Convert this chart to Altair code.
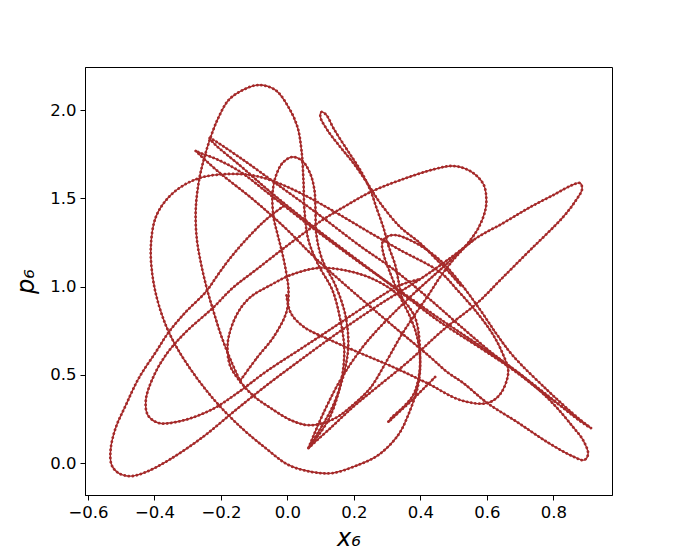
import altair as alt
import pandas as pd

# Trajectory, split into strokes (x6, p6)
outer = [(-0.012, 1.456), (-0.066, 1.377), (-0.126, 1.263), (-0.177, 1.150), (-0.210, 1.065),
         (-0.246, 0.969), (-0.306, 0.856), (-0.357, 0.742), (-0.396, 0.629), (-0.447, 0.482),
         (-0.486, 0.329), (-0.517, 0.198), (-0.532, 0.074), (-0.529, -0.011), (-0.508, -0.057),
         (-0.471, -0.074), (-0.426, -0.051), (-0.357, 0.017), (-0.255, 0.147), (-0.156, 0.300),
         (-0.066, 0.436), (0.039, 0.584), (0.159, 0.748), (0.279, 0.901), (0.399, 1.042),
         (0.489, 1.161), (0.559, 1.263)]

top_right = [(0.063, 0.085), (0.129, 0.198), (0.204, 0.329), (0.270, 0.431), (0.369, 0.584),
             (0.468, 0.754), (0.571, 0.907), (0.640, 1.037), (0.730, 1.207), (0.829, 1.394),
             (0.868, 1.490), (0.886, 1.552), (0.880, 1.586), (0.856, 1.575), (0.805, 1.524),
             (0.730, 1.450), (0.649, 1.360), (0.559, 1.263), (0.468, 1.110), (0.369, 0.941),
             (0.270, 0.754), (0.219, 0.640), (0.159, 0.470), (0.108, 0.283), (0.063, 0.085)]

big = [(-0.003, 0.950), (0.010, 0.850), (0.050, 0.770), (0.129, 0.697), (0.219, 0.623),
       (0.318, 0.544), (0.420, 0.453),
       (0.520, 0.357), (0.601, 0.340), (0.640, 0.391), (0.664, 0.516), (0.649, 0.612),
       (0.619, 0.725), (0.571, 0.850), (0.511, 0.980), (0.459, 1.082), (0.339, 1.207),
       (0.240, 1.314), (0.138, 1.428), (0.039, 1.530), (-0.051, 1.603), (-0.111, 1.632),
       (-0.186, 1.637), (-0.255, 1.620), (-0.306, 1.581), (-0.357, 1.507), (-0.396, 1.394),
       (-0.411, 1.224), (-0.405, 1.048), (-0.387, 0.895), (-0.357, 0.742), (-0.306, 0.572),
       (-0.225, 0.368), (-0.141, 0.204), (-0.066, 0.085), (0.003, -0.011), (0.075, -0.051),
       (0.135, -0.057), (0.204, -0.017), (0.273, 0.045), (0.333, 0.159), (0.363, 0.272),
       (0.393, 0.442), (0.399, 0.595), (0.384, 0.822), (0.333, 0.952), (0.264, 1.037),
       (0.183, 1.088), (0.093, 1.105), (0.009, 1.065), (-0.051, 1.008), (-0.111, 0.941),
       (-0.150, 0.850), (-0.177, 0.714), (-0.180, 0.623), (-0.171, 0.544), (-0.141, 0.459),
       (-0.102, 0.380), (-0.051, 0.312), (0.009, 0.244), (0.060, 0.215), (0.108, 0.227),
       (0.150, 0.261), (0.189, 0.317), (0.249, 0.425), (0.300, 0.584), (0.339, 0.714),
       (0.378, 0.827), (0.420, 0.941), (0.459, 1.054), (0.498, 1.150), (0.538, 1.235),
       (0.574, 1.331), (0.595, 1.433), (0.598, 1.501), (0.589, 1.581), (0.550, 1.654),
       (0.498, 1.683), (0.444, 1.666), (0.339, 1.603), (0.249, 1.535), (0.174, 1.456),
       (0.105, 1.377), (0.009, 1.246), (-0.096, 1.093), (-0.165, 0.992), (-0.225, 0.878),
       (-0.306, 0.742), (-0.366, 0.612), (-0.405, 0.482), (-0.426, 0.357), (-0.420, 0.272),
       (-0.387, 0.227), (-0.321, 0.238), (-0.225, 0.306), (-0.147, 0.402), (-0.066, 0.516),
       (0.039, 0.646), (0.144, 0.776), (0.249, 0.907), (0.339, 1.008), (0.399, 1.042)]

tall = [(-0.141, 0.459), (-0.171, 0.584), (-0.198, 0.714), (-0.222, 0.856), (-0.243, 0.992),
        (-0.261, 1.139), (-0.273, 1.275), (-0.276, 1.433), (-0.267, 1.592), (-0.252, 1.717),
        (-0.231, 1.847), (-0.207, 1.960), (-0.177, 2.057), (-0.135, 2.113), (-0.087, 2.142),
        (-0.036, 2.113), (0.003, 2.017), (0.030, 1.904), (0.042, 1.773), (0.048, 1.603),
        (0.051, 1.433), (0.063, 1.263), (0.093, 1.122), (0.135, 0.980), (0.159, 0.810),
        (0.171, 0.640), (0.159, 0.442), (0.123, 0.244), (0.063, 0.085)]

small = [(-0.141, 0.470), (-0.090, 0.601), (-0.042, 0.714), (-0.003, 0.856), (0.003, 0.980),
         (-0.003, 1.071), (-0.015, 1.184), (-0.030, 1.297), (-0.042, 1.394), (-0.045, 1.524),
         (-0.036, 1.620), (-0.015, 1.700), (0.015, 1.734), (0.045, 1.711), (0.069, 1.637),
         (0.081, 1.547), (0.084, 1.450), (0.087, 1.292), (0.105, 1.150), (0.144, 1.008),
         (0.174, 0.839), (0.183, 0.669), (0.171, 0.516), (0.138, 0.329), (0.093, 0.176),
         (0.063, 0.085)]

diag = [(0.444, 0.487), (0.411, 0.425), (0.375, 0.357), (0.339, 0.295), (0.303, 0.232),
        (0.315, 0.261), (0.348, 0.317), (0.378, 0.385), (0.393, 0.470), (0.399, 0.584),
        (0.390, 0.714), (0.369, 0.827), (0.339, 0.941), (0.309, 1.076), (0.288, 1.190),
        (0.285, 1.246), (0.297, 1.280), (0.324, 1.292), (0.369, 1.263), (0.420, 1.207),
        (0.468, 1.133), (0.520, 1.020), (0.580, 0.867), (0.631, 0.725), (0.679, 0.606),
        (0.781, 0.414), (0.874, 0.255), (0.913, 0.198), (0.880, 0.238), (0.781, 0.385),
        (0.700, 0.504), (0.619, 0.618), (0.520, 0.776), (0.420, 0.941), (0.318, 1.099),
        (0.219, 1.229), (0.084, 1.422), (-0.036, 1.586), (-0.141, 1.728), (-0.234, 1.841),
        (-0.219, 1.807), (-0.141, 1.683), (-0.051, 1.535), (0.084, 1.331), (0.219, 1.139),
        (0.339, 0.969), (0.459, 0.799), (0.580, 0.652), (0.679, 0.527), (0.781, 0.380),
        (0.865, 0.266)]

hairpin = [(-0.276, 1.768), (-0.207, 1.649), (-0.105, 1.496), (-0.006, 1.331), (0.084, 1.161),
           (0.219, 0.935), (0.318, 0.776), (0.429, 0.601), (0.480, 0.516), (0.529, 0.453),
           (0.601, 0.340), (0.691, 0.232), (0.781, 0.119), (0.856, 0.040), (0.892, 0.017),
           (0.904, 0.051), (0.889, 0.130), (0.859, 0.204), (0.811, 0.312), (0.760, 0.408),
           (0.679, 0.533), (0.580, 0.663), (0.459, 0.816), (0.339, 0.975), (0.219, 1.133),
           (0.084, 1.320), (-0.051, 1.518), (-0.141, 1.649), (-0.207, 1.717), (-0.261, 1.756),
           (-0.276, 1.768)]

narrow = [(0.520, 1.008), (0.480, 1.093), (0.444, 1.161), (0.399, 1.246), (0.339, 1.337),
          (0.279, 1.473), (0.240, 1.586), (0.198, 1.700), (0.159, 1.790), (0.120, 1.887),
          (0.099, 1.960), (0.102, 1.989), (0.117, 1.972), (0.138, 1.898), (0.180, 1.773),
          (0.219, 1.660), (0.249, 1.547), (0.270, 1.433), (0.288, 1.337), (0.303, 1.235),
          (0.324, 1.122), (0.335, 1.020), (0.345, 0.930)]

x_ticks = [-0.6, -0.4, -0.2, 0.0, 0.2, 0.4, 0.6, 0.8]
y_ticks = [0.0, 0.5, 1.0, 1.5, 2.0]

rows = []
for name, pts in [("outer", outer), ("top_right", top_right), ("big", big), ("tall", tall),
                  ("small", small), ("diag", diag), ("hairpin", hairpin), ("narrow", narrow)]:
    for i, (xv, yv) in enumerate(pts):
        rows.append({"seg": name, "i": i, "x": xv, "y": yv})
df = pd.DataFrame(rows)

xs = alt.Scale(domain=[-0.609, 0.976], nice=False, zero=False)
ys = alt.Scale(domain=[-0.181, 2.244], nice=False, zero=False)

enc = dict(
    x=alt.X("x:Q", scale=xs,
            axis=alt.Axis(values=x_ticks, format=".1f", title="x₆", titlePadding=6)),
    y=alt.Y("y:Q", scale=ys,
            axis=alt.Axis(values=y_ticks, format=".1f", title="p₆", titlePadding=11)),
    detail="seg:N",
    order="i:Q",
)

base = alt.Chart(df)
core = base.mark_line(color="#a52a2a", strokeWidth=1.4, interpolate="catmull-rom").encode(**enc)
beads = base.mark_line(color="#a52a2a", strokeWidth=2.8, interpolate="catmull-rom",
                       strokeDash=[0.1, 4], strokeCap="round").encode(**enc)

chart = alt.layer(core, beads).properties(
    width=527, height=428,
    autosize=alt.AutoSizeParams(type="none"),
    padding={"left": 77, "top": 59, "right": 60, "bottom": 62},
).configure_axis(
    domainColor="black", tickColor="black", labelColor="black", titleColor="black",
    labelFontSize=16.5, titleFontSize=24, grid=False, tickSize=5, labelPadding=4,
    labelFont="DejaVu Sans", titleFont="DejaVu Sans", titleFontWeight="normal",
    titleFontStyle="italic",
).configure_view(stroke="black", strokeWidth=1)

chart.save("out.html", embed_options={"renderer": "svg", "actions": False})
